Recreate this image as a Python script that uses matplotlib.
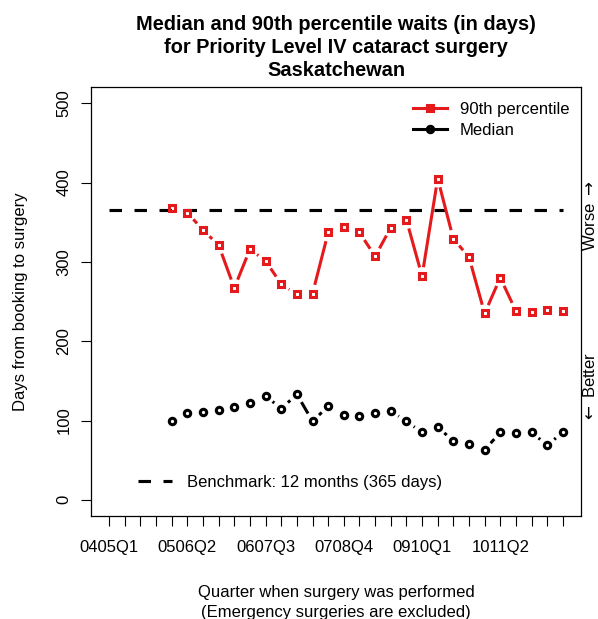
import matplotlib
matplotlib.use("Agg")
import matplotlib.pyplot as plt
import numpy as np
from matplotlib.lines import Line2D

plt.rcParams['font.family'] = ['Liberation Sans', 'DejaVu Sans']
plt.rcParams['font.size'] = 12

# Fiscal quarters 2004/05 Q1 .. 2011/12 Q2
quarters = ['0405Q1', '0405Q2', '0405Q3', '0405Q4',
            '0506Q1', '0506Q2', '0506Q3', '0506Q4',
            '0607Q1', '0607Q2', '0607Q3', '0607Q4',
            '0708Q1', '0708Q2', '0708Q3', '0708Q4',
            '0809Q1', '0809Q2', '0809Q3', '0809Q4',
            '0910Q1', '0910Q2', '0910Q3', '0910Q4',
            '1011Q1', '1011Q2', '1011Q3', '1011Q4',
            '1112Q1', '1112Q2']
labelled = ['0405Q1', '0506Q2', '0607Q3', '0708Q4', '0910Q1', '1011Q2']
first_quarter = '0506Q1'

# waits in days
p90 = [368, 362, 340, 321, 267, 316, 301, 272, 259, 260, 337, 344, 337,
       307, 343, 353, 282, 405, 329, 306, 235, 280, 238, 237, 239, 238]
median = [99, 109, 111, 113, 117, 122, 131, 115, 133, 99, 118, 107, 106,
          110, 112, 99, 85, 92, 74, 71, 63, 85, 84, 85, 69, 85]
benchmark = 365

red = '#E41A1C'
W, H = 598, 619

fig = plt.figure(figsize=(W / 100, H / 100), dpi=100)
ax = fig.add_axes([91 / W, (H - 515.7) / H, 490 / W, 428.4 / H])

qnum = np.arange(1, len(quarters) + 1)
start = quarters.index(first_quarter)
x = qnum[start:start + len(p90)]

ax.set_xlim(1 - 0.04 * 29, 30 + 0.04 * 29)
ax.set_ylim(-20, 520)


def gapped_line(ax, x, y, gap, **kw):
    # lines between points, stopping short of each marker (like type="b")
    pts = ax.transData.transform(np.column_stack([x, y]))
    inv = ax.transData.inverted()
    for p0, p1 in zip(pts[:-1], pts[1:]):
        d = p1 - p0
        dist = np.hypot(*d)
        if dist <= 2 * gap:
            continue
        u = d / dist
        seg = inv.transform([p0 + u * gap, p1 - u * gap])
        ax.plot(seg[:, 0], seg[:, 1], solid_capstyle='butt', **kw)


# benchmark
ax.plot([qnum[0], qnum[-1]], [benchmark, benchmark], color='black', lw=2.25,
        linestyle=(0, (4, 4)), dash_capstyle='butt', zorder=2)

gapped_line(ax, x, p90, 9, color=red, lw=2.2, zorder=3)
ax.plot(x, p90, linestyle='none', marker='s', ms=4.3, mew=2.2,
        mec=red, mfc='none', zorder=4)

gapped_line(ax, x, median, 9, color='black', lw=2.2, zorder=3)
ax.plot(x, median, linestyle='none', marker='o', ms=4.6, mew=2.2,
        mec='black', mfc='none', zorder=4)

# axes
ax.set_xticks(qnum)
ax.set_xticklabels([q if q in labelled else '' for q in quarters])
ax.set_yticks(np.arange(0, 501, 100))
ax.tick_params(axis='x', length=7.2, width=0.8, pad=10)
ax.tick_params(axis='y', length=7.2, width=0.8, pad=7, labelrotation=90)
for t in ax.get_yticklabels():
    t.set_va('center')
for s in ax.spines.values():
    s.set_linewidth(0.9)

# titles and labels
title = ['Median and 90th percentile waits (in days)',
         'for Priority Level IV cataract surgery',
         'Saskatchewan']
cx = (91 + 581) / 2 / W
for line, base in zip(title, [30.5, 53, 75.5]):
    fig.text(cx, 1 - base / H, line, ha='center', va='baseline',
             fontsize=14.4, fontweight='bold')
fig.text(cx, 1 - 597.3 / H, 'Quarter when surgery was performed',
         ha='center', va='baseline')
fig.text(cx, 1 - 616.5 / H, '(Emergency surgeries are excluded)',
         ha='center', va='baseline')
fig.text(21 / W, 1 - 301.5 / H, 'Days from booking to surgery',
         ha='center', va='center', rotation=90)
fig.text(590 / W, 1 - 215 / H, r'Worse $\rightarrow$', ha='center',
         va='center', rotation=90)
fig.text(590 / W, 1 - 387 / H, r'$\leftarrow$ Better', ha='center',
         va='center', rotation=90)

# legends
series_handles = [
    Line2D([], [], color=red, lw=2.2, marker='s', ms=4.3, mew=2.2, mfc='none'),
    Line2D([], [], color='black', lw=2.2, marker='o', ms=4.6, mew=2.2,
           mfc='none'),
]
leg = ax.legend(series_handles, ['90th percentile', 'Median'],
                loc='upper left', bbox_to_anchor=(0.657, 0.966),
                frameon=False, borderpad=0, borderaxespad=0,
                handlelength=2.04, handletextpad=0.78, labelspacing=0.35)
ax.add_artist(leg)
bench_handle = Line2D([], [], color='black', lw=2.25, linestyle=(0, (4, 4)),
                      dash_capstyle='butt')
ax.legend([bench_handle], ['Benchmark: 12 months (365 days)'],
          loc='upper left', bbox_to_anchor=(0.0959, 0.095),
          frameon=False, borderpad=0, borderaxespad=0,
          handlelength=2.04, handletextpad=0.88)

fig.savefig('out.png', dpi=100)
